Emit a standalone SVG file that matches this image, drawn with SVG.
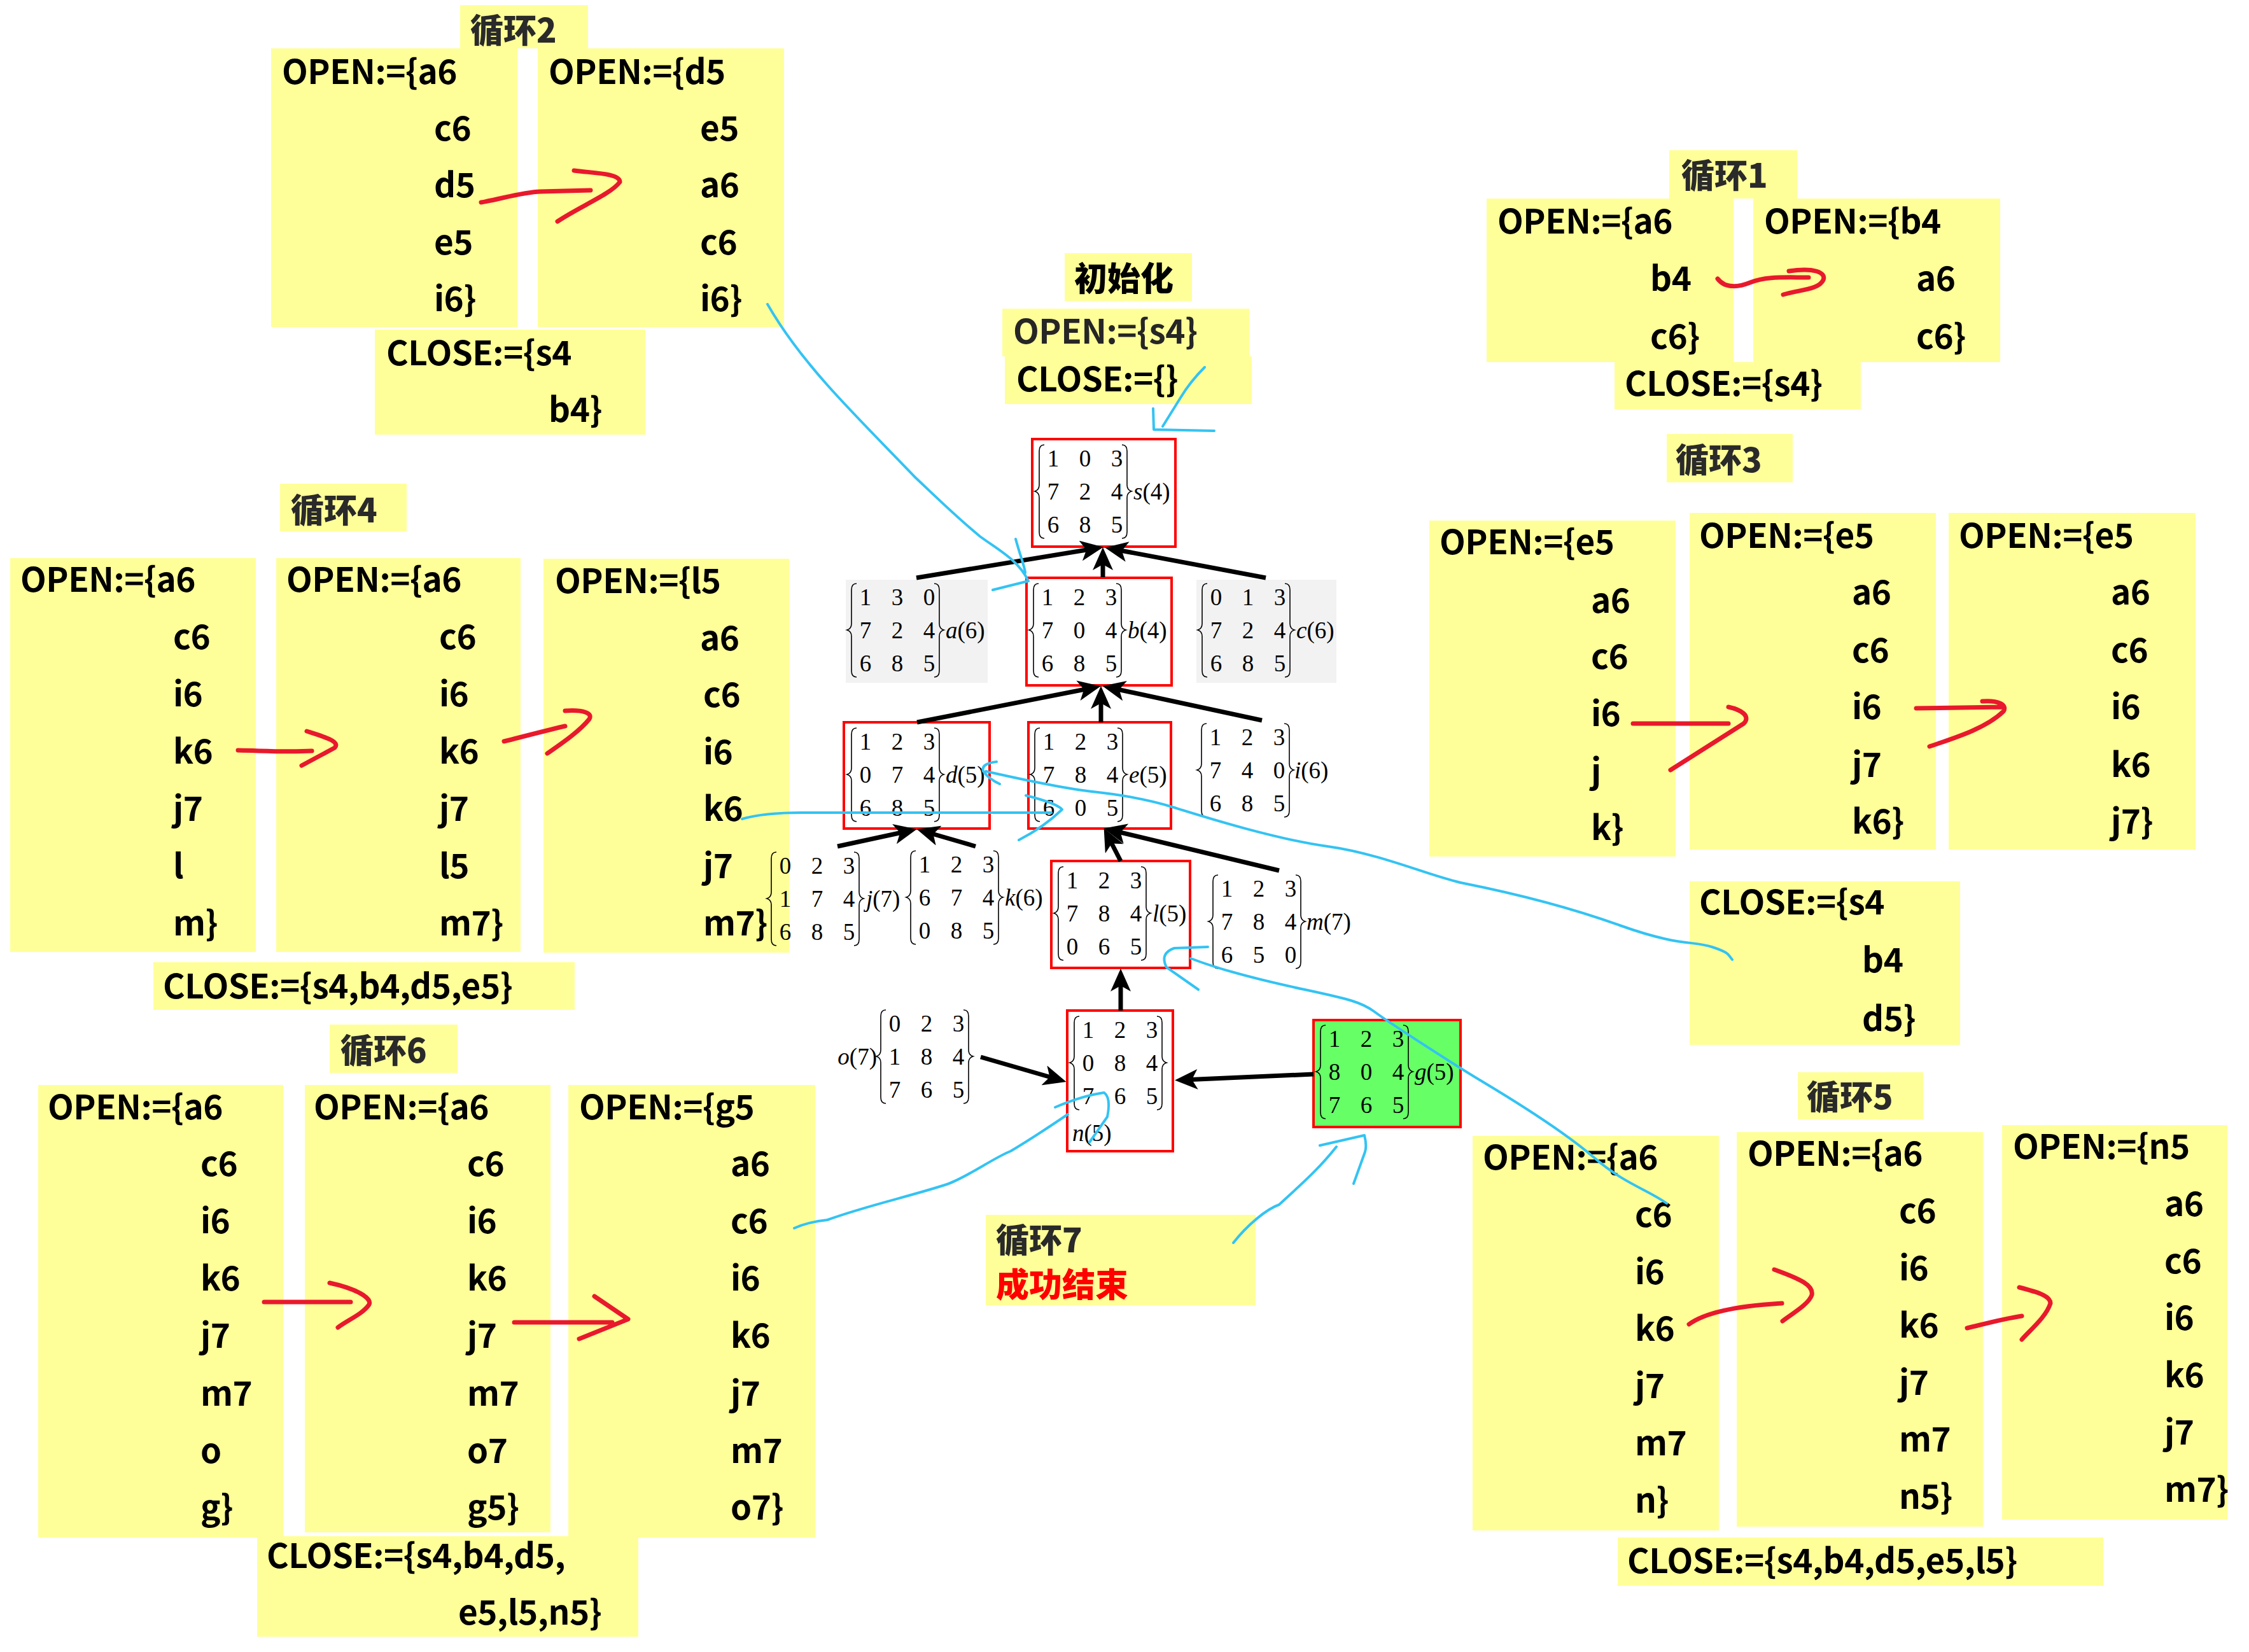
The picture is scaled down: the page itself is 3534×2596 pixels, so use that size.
<svg xmlns="http://www.w3.org/2000/svg" xmlns:xlink="http://www.w3.org/1999/xlink" width="3534" height="2596" viewBox="0 0 3534 2596">
<style>
.y{fill:#ffff99}
.t{font-family:"Noto Sans CJK SC","Noto Sans",sans-serif;font-weight:bold;font-size:53px;letter-spacing:-0.5px;fill:#000}
.h{font-family:"Noto Sans CJK SC","Noto Sans",sans-serif;font-weight:900;font-size:52px;fill:#2a2a2a}
.m{font-family:"Liberation Serif","Times New Roman",serif;font-size:37px;fill:#000;text-anchor:middle}
.lbl{font-family:"Liberation Serif","Times New Roman",serif;font-size:37px;fill:#000}
.br{fill:none;stroke:#000;stroke-width:1.6}
.rb{fill:#fff;stroke:#ff0000;stroke-width:4}
.gb{fill:#f2f2f2}
.ed{stroke:#000;stroke-width:7;fill:none;marker-end:url(#ah)}
.ra{fill:none;stroke:#e8192c;stroke-width:7;stroke-linecap:round;stroke-linejoin:round}
.bl{fill:none;stroke:#33c3f3;stroke-width:4;stroke-linecap:round;stroke-linejoin:round}
</style>
<defs>
<marker id="ah" markerUnits="userSpaceOnUse" markerWidth="36" markerHeight="32" refX="22" refY="16" orient="auto">
<path d="M0,0 L36,16 L0,32 L9,16 z" fill="#000"/>
</marker>
<path id="lbr" d="M-14,-73 Q-22,-73 -22,-63 L-22,-10 Q-22,-2 -29,0 Q-22,2 -22,10 L-22,64 Q-22,74 -14,74"/>
<path id="rbr" d="M108,-73 Q116,-73 116,-63 L116,-10 Q116,-2 123,0 Q116,2 116,10 L116,64 Q116,74 108,74"/>
</defs>
<rect x="0" y="0" width="3534" height="2596" fill="#fff"/>

<!-- Loop 2 -->
<g id="loop2">
<rect class="y" x="426" y="76" width="387" height="438"/>
<rect class="y" x="845" y="76" width="387" height="438"/>
<rect class="y" x="589" y="518" width="425" height="165"/>
<rect class="y" x="723" y="8" width="201" height="68"/>
<text class="h" x="739" y="67">循环2</text>
<text class="t" x="443" y="132">OPEN:={a6</text>
<text class="t" x="682" y="221">c6</text>
<text class="t" x="682" y="310">d5</text>
<text class="t" x="682" y="400">e5</text>
<text class="t" x="682" y="489">i6}</text>
<text class="t" x="862" y="132">OPEN:={d5</text>
<text class="t" x="1100" y="221">e5</text>
<text class="t" x="1100" y="310">a6</text>
<text class="t" x="1100" y="400">c6</text>
<text class="t" x="1100" y="489">i6}</text>
<text class="t" x="607" y="574">CLOSE:={s4</text>
<text class="t" x="862" y="663">b4}</text>
</g>

<!-- Init -->
<g id="init">
<rect class="y" x="1673" y="398" width="200" height="75"/>
<rect class="y" x="1575" y="485" width="388" height="75"/>
<rect class="y" x="1579" y="560" width="388" height="75"/>
<text class="h" x="1688" y="457" style="fill:#000">初始化</text>
<text class="t" x="1592" y="540" style="fill:#262626">OPEN:={s4}</text>
<text class="t" x="1597" y="615">CLOSE:={}</text>
</g>

<!-- Loop 1 -->
<g id="loop1">
<rect class="y" x="2336" y="312" width="388" height="257"/>
<rect class="y" x="2755" y="312" width="388" height="257"/>
<rect class="y" x="2537" y="569" width="387" height="74"/>
<rect class="y" x="2623" y="236" width="201" height="76"/>
<text class="h" x="2642" y="295">循环1</text>
<text class="t" x="2353" y="367">OPEN:={a6</text>
<text class="t" x="2593" y="457">b4</text>
<text class="t" x="2593" y="548">c6}</text>
<text class="t" x="2772" y="367">OPEN:={b4</text>
<text class="t" x="3011" y="457">a6</text>
<text class="t" x="3011" y="548">c6}</text>
<text class="t" x="2553" y="622">CLOSE:={s4}</text>
</g>

<!-- Loop 3 -->
<g id="loop3">
<rect class="y" x="2619" y="682" width="198" height="76"/>
<rect class="y" x="2246" y="818" width="387" height="528"/>
<rect class="y" x="2655" y="806" width="387" height="529"/>
<rect class="y" x="3062" y="806" width="388" height="529"/>
<rect class="y" x="2655" y="1385" width="425" height="257"/>
<text class="h" x="2633" y="742">循环3</text>
<text class="t" x="2262" y="871">OPEN:={e5</text>
<text class="t" x="2500" y="963">a6</text>
<text class="t" x="2500" y="1051">c6</text>
<text class="t" x="2500" y="1141">i6</text>
<text class="t" x="2500" y="1231">j</text>
<text class="t" x="2500" y="1320">k}</text>
<text class="t" x="2670" y="861">OPEN:={e5</text>
<text class="t" x="2910" y="950">a6</text>
<text class="t" x="2910" y="1041">c6</text>
<text class="t" x="2910" y="1130">i6</text>
<text class="t" x="2910" y="1221">j7</text>
<text class="t" x="2910" y="1310">k6}</text>
<text class="t" x="3078" y="861">OPEN:={e5</text>
<text class="t" x="3317" y="950">a6</text>
<text class="t" x="3317" y="1041">c6</text>
<text class="t" x="3317" y="1130">i6</text>
<text class="t" x="3317" y="1221">k6</text>
<text class="t" x="3317" y="1310">j7}</text>
<text class="t" x="2670" y="1437">CLOSE:={s4</text>
<text class="t" x="2926" y="1528">b4</text>
<text class="t" x="2926" y="1620">d5}</text>
</g>

<!-- Loop 4 -->
<g id="loop4">
<rect class="y" x="440" y="760" width="199" height="75"/>
<rect class="y" x="16" y="877" width="386" height="619"/>
<rect class="y" x="434" y="877" width="384" height="619"/>
<rect class="y" x="854" y="878" width="386" height="619"/>
<rect class="y" x="241" y="1512" width="662" height="75"/>
<text class="h" x="457" y="821">循环4</text>
<text class="t" x="32" y="930">OPEN:={a6</text>
<text class="t" x="272" y="1020">c6</text>
<text class="t" x="272" y="1110">i6</text>
<text class="t" x="272" y="1200">k6</text>
<text class="t" x="272" y="1290">j7</text>
<text class="t" x="272" y="1380">l</text>
<text class="t" x="272" y="1470">m}</text>
<text class="t" x="450" y="930">OPEN:={a6</text>
<text class="t" x="690" y="1020">c6</text>
<text class="t" x="690" y="1110">i6</text>
<text class="t" x="690" y="1200">k6</text>
<text class="t" x="690" y="1290">j7</text>
<text class="t" x="690" y="1380">l5</text>
<text class="t" x="690" y="1470">m7}</text>
<text class="t" x="872" y="932">OPEN:={l5</text>
<text class="t" x="1100" y="1022">a6</text>
<text class="t" x="1105" y="1111">c6</text>
<text class="t" x="1105" y="1201">i6</text>
<text class="t" x="1105" y="1290">k6</text>
<text class="t" x="1105" y="1380">j7</text>
<text class="t" x="1105" y="1470">m7}</text>
<text class="t" x="256" y="1569">CLOSE:={s4,b4,d5,e5}</text>
</g>

<!-- Loop 6 -->
<g id="loop6">
<rect class="y" x="518" y="1610" width="201" height="76"/>
<rect class="y" x="60" y="1705" width="385" height="711"/>
<rect class="y" x="479" y="1705" width="386" height="703"/>
<rect class="y" x="893" y="1705" width="388" height="711"/>
<rect class="y" x="404" y="2414" width="599" height="158"/>
<text class="h" x="535" y="1670">循环6</text>
<text class="t" x="75" y="1759">OPEN:={a6</text>
<text class="t" x="315" y="1848">c6</text>
<text class="t" x="315" y="1938">i6</text>
<text class="t" x="315" y="2028">k6</text>
<text class="t" x="315" y="2118">j7</text>
<text class="t" x="315" y="2209">m7</text>
<text class="t" x="315" y="2299">o</text>
<text class="t" x="315" y="2388">g}</text>
<text class="t" x="493" y="1759">OPEN:={a6</text>
<text class="t" x="734" y="1848">c6</text>
<text class="t" x="734" y="1938">i6</text>
<text class="t" x="734" y="2028">k6</text>
<text class="t" x="734" y="2118">j7</text>
<text class="t" x="734" y="2209">m7</text>
<text class="t" x="734" y="2299">o7</text>
<text class="t" x="734" y="2388">g5}</text>
<text class="t" x="910" y="1759">OPEN:={g5</text>
<text class="t" x="1148" y="1848">a6</text>
<text class="t" x="1148" y="1938">c6</text>
<text class="t" x="1148" y="2028">i6</text>
<text class="t" x="1148" y="2118">k6</text>
<text class="t" x="1148" y="2209">j7</text>
<text class="t" x="1148" y="2299">m7</text>
<text class="t" x="1148" y="2388">o7}</text>
<text class="t" x="419" y="2464">CLOSE:={s4,b4,d5,</text>
<text class="t" x="720" y="2553">e5,l5,n5}</text>
</g>

<!-- Loop 5 -->
<g id="loop5">
<rect class="y" x="2825" y="1685" width="197" height="74"/>
<rect class="y" x="2314" y="1785" width="387" height="620"/>
<rect class="y" x="2729" y="1779" width="387" height="620"/>
<rect class="y" x="3146" y="1768" width="354" height="620"/>
<rect class="y" x="2542" y="2416" width="763" height="76"/>
<text class="h" x="2839" y="1743">循环5</text>
<text class="t" x="2330" y="1838">OPEN:={a6</text>
<text class="t" x="2569" y="1928">c6</text>
<text class="t" x="2569" y="2018">i6</text>
<text class="t" x="2569" y="2107">k6</text>
<text class="t" x="2569" y="2197">j7</text>
<text class="t" x="2569" y="2287">m7</text>
<text class="t" x="2569" y="2377">n}</text>
<text class="t" x="2746" y="1832">OPEN:={a6</text>
<text class="t" x="2984" y="1922">c6</text>
<text class="t" x="2984" y="2012">i6</text>
<text class="t" x="2984" y="2102">k6</text>
<text class="t" x="2984" y="2192">j7</text>
<text class="t" x="2984" y="2281">m7</text>
<text class="t" x="2984" y="2371">n5}</text>
<text class="t" x="3163" y="1821">OPEN:={n5</text>
<text class="t" x="3401" y="1911">a6</text>
<text class="t" x="3401" y="2001">c6</text>
<text class="t" x="3401" y="2090">i6</text>
<text class="t" x="3401" y="2180">k6</text>
<text class="t" x="3401" y="2270">j7</text>
<text class="t" x="3401" y="2360">m7}</text>
<text class="t" x="2557" y="2472">CLOSE:={s4,b4,d5,e5,l5}</text>
</g>

<!-- Loop 7 -->
<g id="loop7">
<rect class="y" x="1549" y="1909" width="424" height="142"/>
<text class="h" x="1565" y="1968">循环7</text>
<text class="h" x="1565" y="2038" style="fill:#ff0000">成功结束</text>
</g>

<!-- Tree nodes -->
<g id="node-s4">
<rect class="rb" x="1622" y="690" width="225" height="169"/>
<g transform="translate(1655,772)">
<use href="#lbr" class="br"/><use href="#rbr" class="br"/>
<text class="m"><tspan x="0" y="-39">1</tspan><tspan x="50" y="-39">0</tspan><tspan x="100" y="-39">3</tspan><tspan x="0" y="13">7</tspan><tspan x="50" y="13">2</tspan><tspan x="100" y="13">4</tspan><tspan x="0" y="65">6</tspan><tspan x="50" y="65">8</tspan><tspan x="100" y="65">5</tspan></text>
<text class="lbl" x="126" y="13"><tspan font-style="italic">s</tspan>(4)</text>
</g>
</g>
<g id="node-a6">
<rect class="gb" x="1329" y="911" width="223" height="162"/>
<g transform="translate(1360,990)">
<use href="#lbr" class="br"/><use href="#rbr" class="br"/>
<text class="m"><tspan x="0" y="-39">1</tspan><tspan x="50" y="-39">3</tspan><tspan x="100" y="-39">0</tspan><tspan x="0" y="13">7</tspan><tspan x="50" y="13">2</tspan><tspan x="100" y="13">4</tspan><tspan x="0" y="65">6</tspan><tspan x="50" y="65">8</tspan><tspan x="100" y="65">5</tspan></text>
<text class="lbl" x="126" y="13"><tspan font-style="italic">a</tspan>(6)</text>
</g>
</g>
<g id="node-b4">
<rect class="rb" x="1613" y="908" width="228" height="169"/>
<g transform="translate(1646,990)">
<use href="#lbr" class="br"/><use href="#rbr" class="br"/>
<text class="m"><tspan x="0" y="-39">1</tspan><tspan x="50" y="-39">2</tspan><tspan x="100" y="-39">3</tspan><tspan x="0" y="13">7</tspan><tspan x="50" y="13">0</tspan><tspan x="100" y="13">4</tspan><tspan x="0" y="65">6</tspan><tspan x="50" y="65">8</tspan><tspan x="100" y="65">5</tspan></text>
<text class="lbl" x="126" y="13"><tspan font-style="italic">b</tspan>(4)</text>
</g>
</g>
<g id="node-c6">
<rect class="gb" x="1880" y="911" width="220" height="162"/>
<g transform="translate(1911,990)">
<use href="#lbr" class="br"/><use href="#rbr" class="br"/>
<text class="m"><tspan x="0" y="-39">0</tspan><tspan x="50" y="-39">1</tspan><tspan x="100" y="-39">3</tspan><tspan x="0" y="13">7</tspan><tspan x="50" y="13">2</tspan><tspan x="100" y="13">4</tspan><tspan x="0" y="65">6</tspan><tspan x="50" y="65">8</tspan><tspan x="100" y="65">5</tspan></text>
<text class="lbl" x="126" y="13"><tspan font-style="italic">c</tspan>(6)</text>
</g>
</g>
<g id="node-d5">
<rect class="rb" x="1326" y="1135" width="229" height="167"/>
<g transform="translate(1360,1217)">
<use href="#lbr" class="br"/><use href="#rbr" class="br"/>
<text class="m"><tspan x="0" y="-39">1</tspan><tspan x="50" y="-39">2</tspan><tspan x="100" y="-39">3</tspan><tspan x="0" y="13">0</tspan><tspan x="50" y="13">7</tspan><tspan x="100" y="13">4</tspan><tspan x="0" y="65">6</tspan><tspan x="50" y="65">8</tspan><tspan x="100" y="65">5</tspan></text>
<text class="lbl" x="126" y="13"><tspan font-style="italic">d</tspan>(5)</text>
</g>
</g>
<g id="node-e5">
<rect class="rb" x="1616" y="1135" width="224" height="167"/>
<g transform="translate(1648,1217)">
<use href="#lbr" class="br"/><use href="#rbr" class="br"/>
<text class="m"><tspan x="0" y="-39">1</tspan><tspan x="50" y="-39">2</tspan><tspan x="100" y="-39">3</tspan><tspan x="0" y="13">7</tspan><tspan x="50" y="13">8</tspan><tspan x="100" y="13">4</tspan><tspan x="0" y="65">6</tspan><tspan x="50" y="65">0</tspan><tspan x="100" y="65">5</tspan></text>
<text class="lbl" x="126" y="13"><tspan font-style="italic">e</tspan>(5)</text>
</g>
</g>
<g id="node-i6">
<g transform="translate(1910,1210)">
<use href="#lbr" class="br"/><use href="#rbr" class="br"/>
<text class="m"><tspan x="0" y="-39">1</tspan><tspan x="50" y="-39">2</tspan><tspan x="100" y="-39">3</tspan><tspan x="0" y="13">7</tspan><tspan x="50" y="13">4</tspan><tspan x="100" y="13">0</tspan><tspan x="0" y="65">6</tspan><tspan x="50" y="65">8</tspan><tspan x="100" y="65">5</tspan></text>
<text class="lbl" x="124" y="13"><tspan font-style="italic">i</tspan>(6)</text>
</g>
</g>
<g id="node-j7">
<g transform="translate(1234,1412)">
<use href="#lbr" class="br"/><use href="#rbr" class="br"/>
<text class="m"><tspan x="0" y="-39">0</tspan><tspan x="50" y="-39">2</tspan><tspan x="100" y="-39">3</tspan><tspan x="0" y="13">1</tspan><tspan x="50" y="13">7</tspan><tspan x="100" y="13">4</tspan><tspan x="0" y="65">6</tspan><tspan x="50" y="65">8</tspan><tspan x="100" y="65">5</tspan></text>
<text class="lbl" x="127" y="13"><tspan font-style="italic">j</tspan>(7)</text>
</g>
</g>
<g id="node-k6">
<g transform="translate(1453,1410)">
<use href="#lbr" class="br"/><use href="#rbr" class="br"/>
<text class="m"><tspan x="0" y="-39">1</tspan><tspan x="50" y="-39">2</tspan><tspan x="100" y="-39">3</tspan><tspan x="0" y="13">6</tspan><tspan x="50" y="13">7</tspan><tspan x="100" y="13">4</tspan><tspan x="0" y="65">0</tspan><tspan x="50" y="65">8</tspan><tspan x="100" y="65">5</tspan></text>
<text class="lbl" x="126" y="13"><tspan font-style="italic">k</tspan>(6)</text>
</g>
</g>
<g id="node-l5">
<rect class="rb" x="1652" y="1353" width="218" height="168"/>
<g transform="translate(1685,1435)">
<use href="#lbr" class="br"/><use href="#rbr" class="br"/>
<text class="m"><tspan x="0" y="-39">1</tspan><tspan x="50" y="-39">2</tspan><tspan x="100" y="-39">3</tspan><tspan x="0" y="13">7</tspan><tspan x="50" y="13">8</tspan><tspan x="100" y="13">4</tspan><tspan x="0" y="65">0</tspan><tspan x="50" y="65">6</tspan><tspan x="100" y="65">5</tspan></text>
<text class="lbl" x="126" y="13"><tspan font-style="italic">l</tspan>(5)</text>
</g>
</g>
<g id="node-m7">
<g transform="translate(1928,1448)">
<use href="#lbr" class="br"/><use href="#rbr" class="br"/>
<text class="m"><tspan x="0" y="-39">1</tspan><tspan x="50" y="-39">2</tspan><tspan x="100" y="-39">3</tspan><tspan x="0" y="13">7</tspan><tspan x="50" y="13">8</tspan><tspan x="100" y="13">4</tspan><tspan x="0" y="65">6</tspan><tspan x="50" y="65">5</tspan><tspan x="100" y="65">0</tspan></text>
<text class="lbl" x="125" y="13"><tspan font-style="italic">m</tspan>(7)</text>
</g>
</g>
<g id="node-n5">
<rect class="rb" x="1677" y="1588" width="166" height="221"/>
<g transform="translate(1710,1670)">
<use href="#lbr" class="br"/><use href="#rbr" class="br"/>
<text class="m"><tspan x="0" y="-39">1</tspan><tspan x="50" y="-39">2</tspan><tspan x="100" y="-39">3</tspan><tspan x="0" y="13">0</tspan><tspan x="50" y="13">8</tspan><tspan x="100" y="13">4</tspan><tspan x="0" y="65">7</tspan><tspan x="50" y="65">6</tspan><tspan x="100" y="65">5</tspan></text>
<text class="lbl" x="-25" y="123"><tspan font-style="italic">n</tspan>(5)</text>
</g>
</g>
<g id="node-o7">
<g transform="translate(1406,1660)">
<use href="#lbr" class="br"/><use href="#rbr" class="br"/>
<text class="m"><tspan x="0" y="-39">0</tspan><tspan x="50" y="-39">2</tspan><tspan x="100" y="-39">3</tspan><tspan x="0" y="13">1</tspan><tspan x="50" y="13">8</tspan><tspan x="100" y="13">4</tspan><tspan x="0" y="65">7</tspan><tspan x="50" y="65">6</tspan><tspan x="100" y="65">5</tspan></text>
<text class="lbl" x="-28" y="13" text-anchor="end"><tspan font-style="italic">o</tspan>(7)</text>
</g>
</g>
<g id="node-g5">
<rect x="2064" y="1603" width="231" height="168" fill="#66ff66" stroke="#ff0000" stroke-width="4"/>
<g transform="translate(2097,1684)">
<use href="#lbr" class="br"/><use href="#rbr" class="br"/>
<text class="m"><tspan x="0" y="-39">1</tspan><tspan x="50" y="-39">2</tspan><tspan x="100" y="-39">3</tspan><tspan x="0" y="13">8</tspan><tspan x="50" y="13">0</tspan><tspan x="100" y="13">4</tspan><tspan x="0" y="65">7</tspan><tspan x="50" y="65">6</tspan><tspan x="100" y="65">5</tspan></text>
<text class="lbl" x="126" y="13"><tspan font-style="italic">g</tspan>(5)</text>
</g>
</g>

<!-- Connectors -->
<g id="connectors">
<line class="ed" x1="1440" y1="908" x2="1720" y2="862"/>
<line class="ed" x1="1733" y1="907" x2="1733" y2="874"/>
<line class="ed" x1="1989" y1="908" x2="1750" y2="863"/>
<line class="ed" x1="1441" y1="1135" x2="1716" y2="1081"/>
<line class="ed" x1="1730" y1="1135" x2="1730" y2="1092"/>
<line class="ed" x1="1983" y1="1132" x2="1746" y2="1081"/>
<line class="ed" x1="1316" y1="1330" x2="1427" y2="1306"/>
<line class="ed" x1="1533" y1="1330" x2="1454" y2="1307"/>
<line class="ed" x1="1761" y1="1353" x2="1741" y2="1314"/>
<line class="ed" x1="2010" y1="1368" x2="1748" y2="1305"/>
<line class="ed" x1="1761" y1="1588" x2="1761" y2="1536"/>
<line class="ed" x1="1541" y1="1661" x2="1662" y2="1696"/>
<line class="ed" x1="2064" y1="1688" x2="1860" y2="1697"/>
</g>

<!-- Hand-drawn red arrows -->
<g id="red-arrows">
<path class="ra" d="M756,318 C790,312 820,302 850,301 L928,299 M902,268 C930,272 975,272 974,286 C960,305 910,325 876,348"/>
<path class="ra" d="M2699,438 C2712,455 2735,450 2750,444 C2775,434 2800,436 2842,436 M2811,426 C2850,420 2870,428 2865,440 C2858,455 2830,455 2802,463"/>
<path class="ra" d="M2566,1137 L2716,1137 M2716,1111 C2735,1115 2752,1125 2740,1137 L2625,1210"/>
<path class="ra" d="M3011,1113 L3147,1111 M3115,1102 C3140,1100 3155,1108 3148,1118 C3120,1145 3070,1160 3032,1173"/>
<path class="ra" d="M374,1179 C420,1180 450,1182 490,1180 M482,1149 C510,1158 535,1165 526,1175 L474,1203"/>
<path class="ra" d="M792,1165 C820,1158 850,1150 888,1141 M888,1117 C915,1115 932,1120 926,1130 C910,1150 880,1170 860,1184"/>
<path class="ra" d="M415,2046 L551,2046 M518,2016 C560,2025 585,2040 580,2050 C570,2065 545,2075 531,2086"/>
<path class="ra" d="M808,2078 L962,2078 M934,2037 L987,2073 L910,2104"/>
<path class="ra" d="M2654,2081 C2680,2062 2730,2052 2800,2048 M2788,1995 C2830,2010 2850,2020 2847,2035 C2842,2050 2815,2065 2801,2076"/>
<path class="ra" d="M3091,2087 C3120,2080 3150,2072 3177,2068 M3173,2023 C3200,2030 3222,2036 3222,2048 C3215,2070 3190,2090 3177,2105"/>
</g>

<!-- Hand-drawn blue strokes -->
<g id="blue-strokes">
<path class="bl" d="M1206,478 C1230,520 1260,560 1300,605 C1340,650 1390,700 1438,750 C1470,780 1500,810 1540,843 C1570,865 1600,880 1616,913 L1560,927 M1596,847 C1602,870 1610,890 1611,900"/>
<path class="bl" d="M1893,577 Q1870,600 1855,625 L1827,670 M1812,642 L1813,675 L1908,677"/>
<path class="bl" d="M1166,1287 Q1200,1277 1260,1277 L1652,1277 M1612,1250 Q1660,1262 1669,1272 Q1640,1300 1601,1320"/>
<path class="bl" d="M1566,1197 Q1541,1200 1545,1212 Q1555,1225 1571,1232 M1549,1212 C1620,1228 1680,1240 1717,1244 S1800,1255 1842,1268 S2000,1318 2086,1330 S2250,1378 2300,1388 S2450,1420 2545,1454 S2660,1478 2690,1488 S2715,1500 2722,1508"/>
<path class="bl" d="M1898,1488 L1845,1490 Q1822,1498 1833,1520 L1883,1555 M1871,1506 C1920,1525 1980,1540 2050,1555 S2140,1575 2160,1590 S2280,1670 2330,1700 S2460,1780 2506,1820 S2590,1870 2619,1891"/>
<path class="bl" d="M1248,1930 Q1270,1920 1300,1917 C1360,1895 1430,1880 1488,1861 C1520,1850 1560,1820 1588,1809 C1620,1790 1650,1770 1678,1751 M1658,1740 Q1700,1722 1735,1717 Q1746,1725 1740,1755 L1712,1795"/>
<path class="bl" d="M1938,1953 C1960,1925 1990,1900 2010,1893 C2040,1865 2070,1840 2100,1802 M2074,1800 L2144,1784 Q2148,1800 2145,1810 L2127,1860"/>
</g>
</svg>
